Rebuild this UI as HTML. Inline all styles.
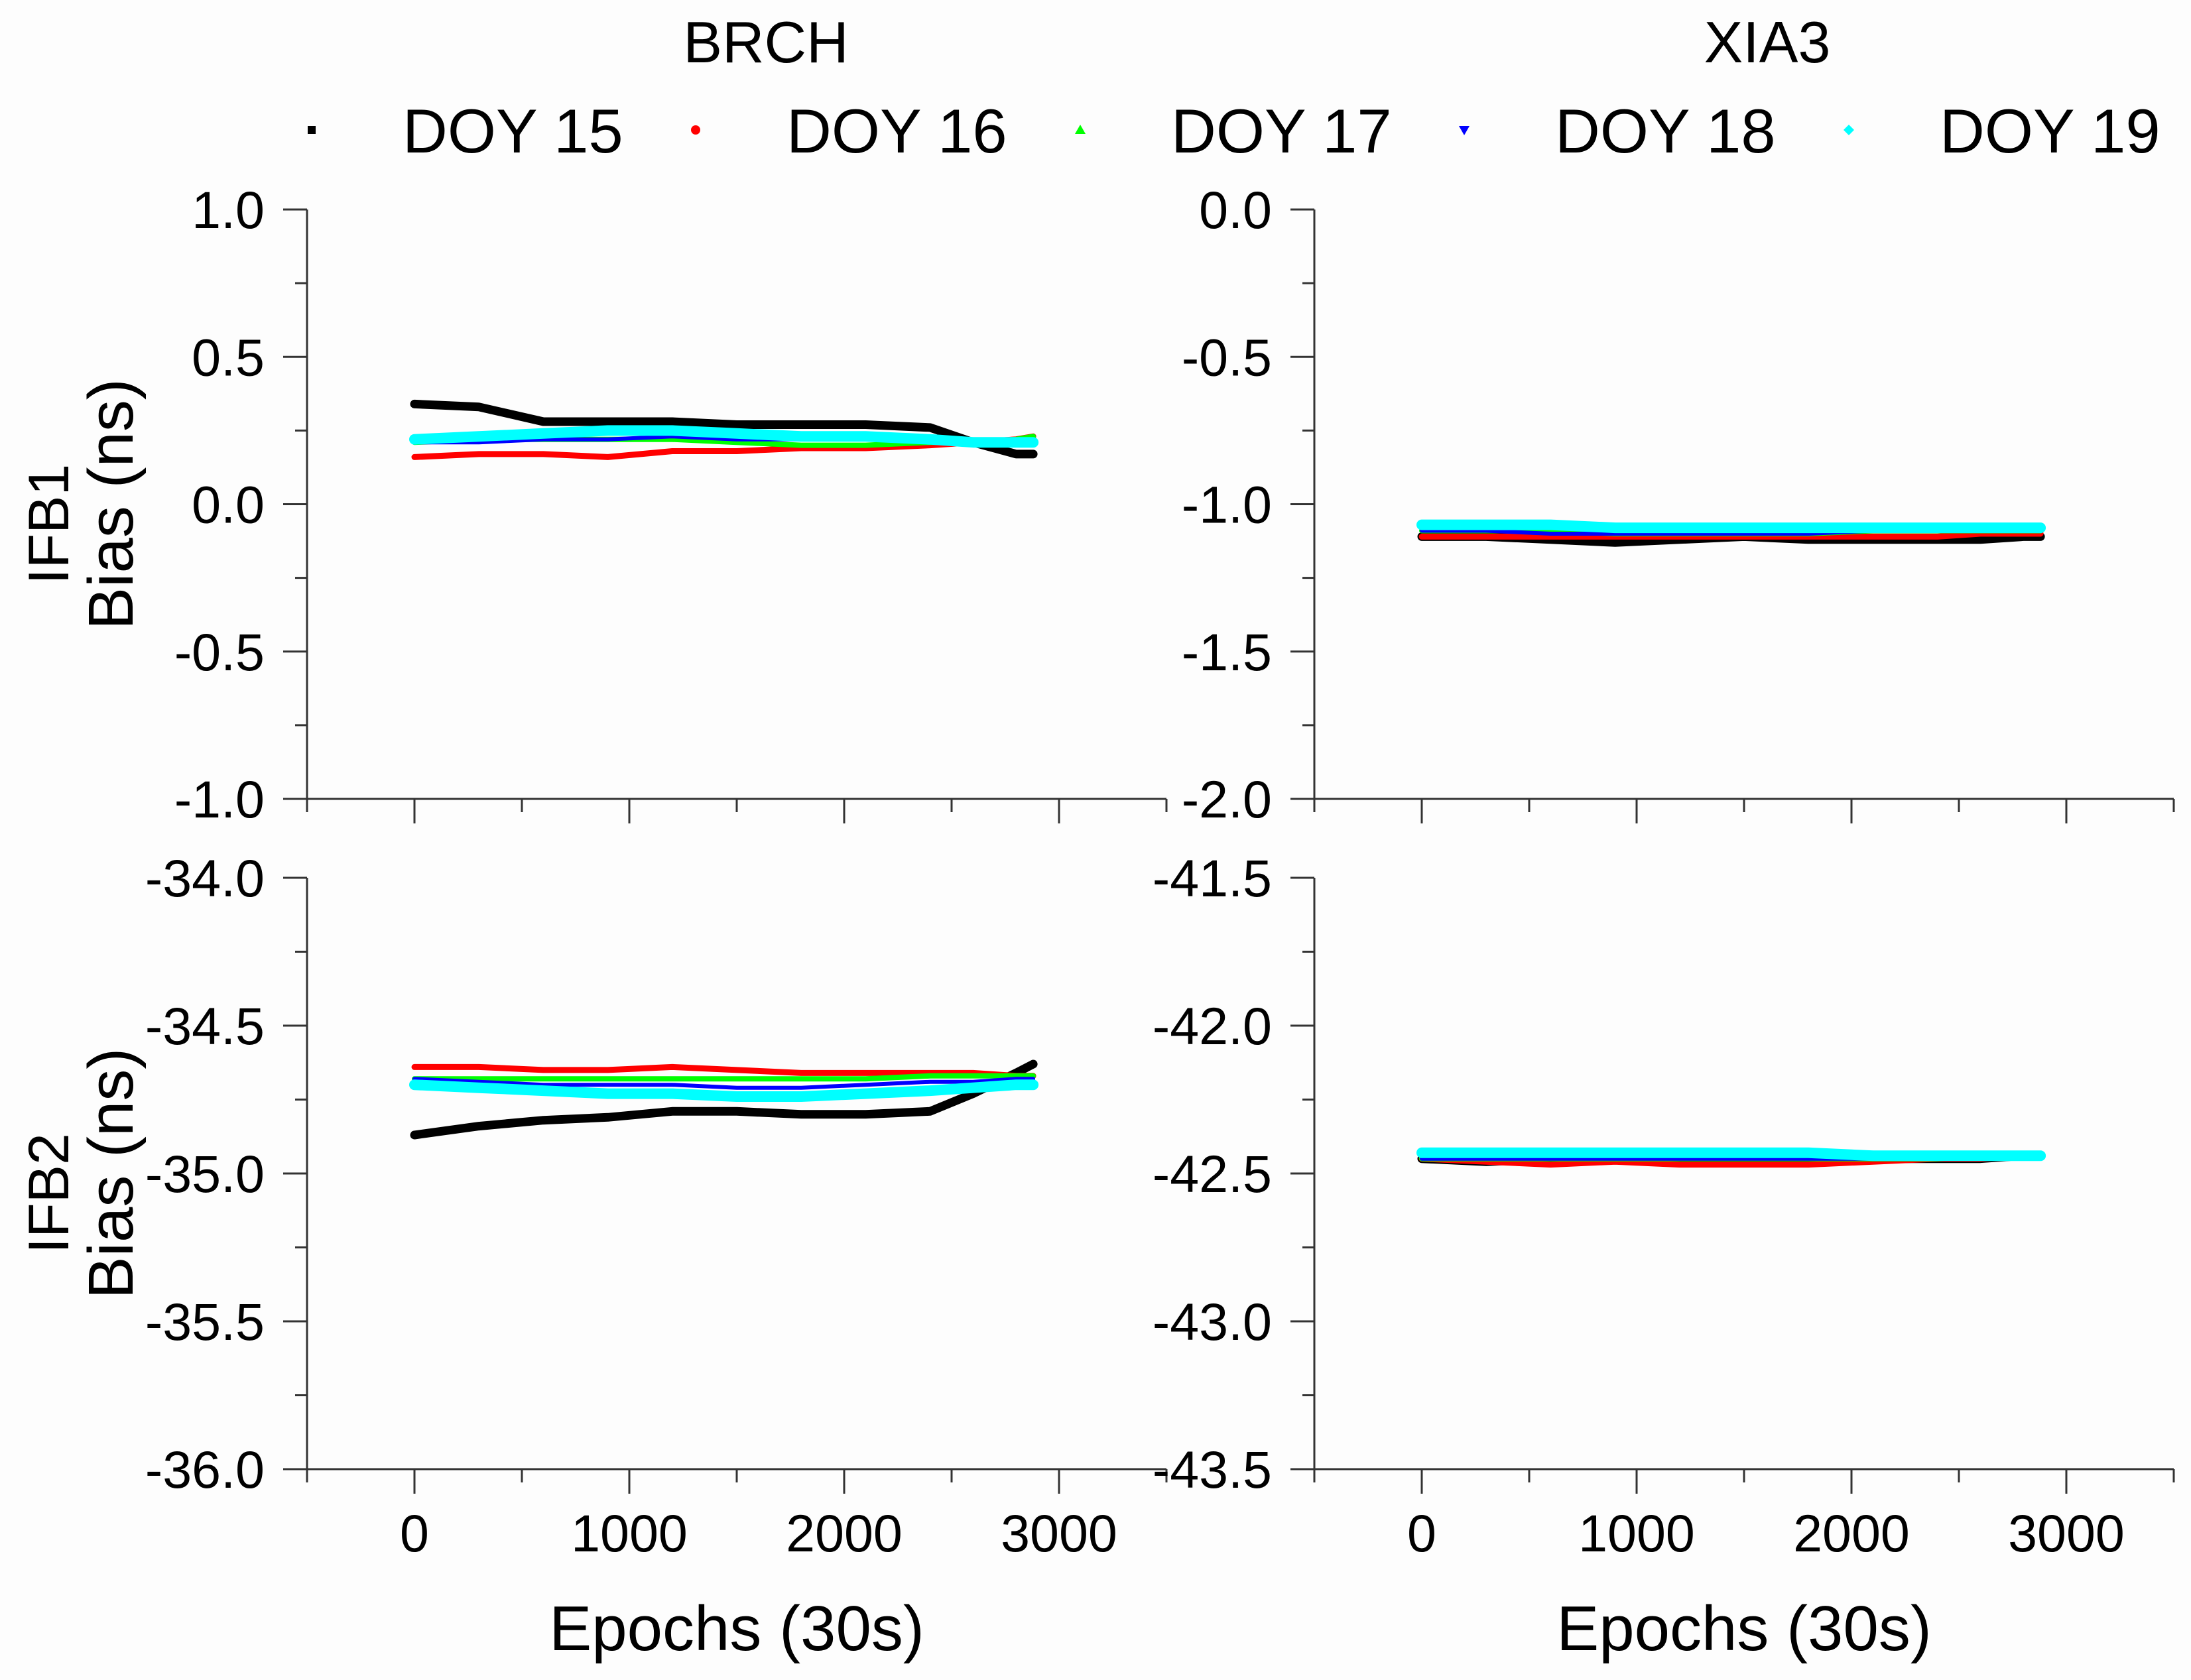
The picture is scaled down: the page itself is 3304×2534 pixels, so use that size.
<!DOCTYPE html>
<html><head><meta charset="utf-8">
<style>
html,body{margin:0;padding:0;background:#fdfdfd;}
svg{display:block;}
text{font-family:"Liberation Sans",Arial,sans-serif;fill:#000;}
</style></head>
<body>
<svg id="fig" width="3304" height="2534" viewBox="0 0 3304 2534" xmlns="http://www.w3.org/2000/svg">
<rect width="3304" height="2534" fill="#fdfdfd"/>
<text x="1155" y="94" font-size="88" text-anchor="middle">BRCH</text>
<text x="2665" y="94" font-size="88" text-anchor="middle">XIA3</text>
<g id="legend"></g>
<g id="panels"></g>
</svg>
<script>
// ---- data ----
const epochs = [0, 300, 600, 900, 1200, 1500, 1800, 2100, 2400, 2600, 2800, 2880];
const seriesNames = ["DOY 15", "DOY 16", "DOY 17", "DOY 18", "DOY 19"];
const xTicks = [0, 1000, 2000, 3000];
// BRCH IFB1
const brchIfb1_d15 = [0.34, 0.33, 0.28, 0.28, 0.28, 0.27, 0.27, 0.27, 0.26, 0.21, 0.17, 0.17];
const brchIfb1_d16 = [0.16, 0.17, 0.17, 0.16, 0.18, 0.18, 0.19, 0.19, 0.20, 0.21, 0.22, 0.23];
const brchIfb1_d17 = [0.21, 0.22, 0.22, 0.22, 0.22, 0.21, 0.20, 0.20, 0.21, 0.21, 0.22, 0.23];
const brchIfb1_d18 = [0.21, 0.21, 0.22, 0.22, 0.23, 0.22, 0.22, 0.22, 0.21, 0.21, 0.22, 0.22];
const brchIfb1_d19 = [0.22, 0.23, 0.24, 0.25, 0.25, 0.24, 0.23, 0.23, 0.22, 0.21, 0.21, 0.21];
// XIA3 IFB1
const xiaIfb1_d15 = [-1.11, -1.11, -1.12, -1.13, -1.12, -1.11, -1.12, -1.12, -1.12, -1.12, -1.11, -1.11];
const xiaIfb1_d16 = [-1.11, -1.11, -1.11, -1.11, -1.11, -1.11, -1.11, -1.11, -1.11, -1.10, -1.10, -1.10];
const xiaIfb1_d17 = [-1.09, -1.09, -1.09, -1.10, -1.10, -1.10, -1.10, -1.09, -1.09, -1.09, -1.09, -1.09];
const xiaIfb1_d18 = [-1.09, -1.09, -1.10, -1.10, -1.10, -1.10, -1.10, -1.09, -1.09, -1.09, -1.09, -1.09];
const xiaIfb1_d19 = [-1.07, -1.07, -1.07, -1.08, -1.08, -1.08, -1.08, -1.08, -1.08, -1.08, -1.08, -1.08];
// BRCH IFB2
const brchIfb2_d15 = [-34.87, -34.84, -34.82, -34.81, -34.79, -34.79, -34.80, -34.80, -34.79, -34.73, -34.66, -34.63];
const brchIfb2_d16 = [-34.64, -34.64, -34.65, -34.65, -34.64, -34.65, -34.66, -34.66, -34.66, -34.66, -34.67, -34.67];
const brchIfb2_d17 = [-34.68, -34.68, -34.68, -34.68, -34.68, -34.68, -34.68, -34.68, -34.67, -34.67, -34.67, -34.67];
const brchIfb2_d18 = [-34.68, -34.69, -34.70, -34.70, -34.70, -34.71, -34.71, -34.70, -34.69, -34.69, -34.68, -34.68];
const brchIfb2_d19 = [-34.70, -34.71, -34.72, -34.73, -34.73, -34.74, -34.74, -34.73, -34.72, -34.71, -34.70, -34.70];
// XIA3 IFB2
const xiaIfb2_d15 = [-42.45, -42.46, -42.45, -42.45, -42.45, -42.45, -42.45, -42.45, -42.45, -42.45, -42.44, -42.44];
const xiaIfb2_d16 = [-42.45, -42.46, -42.47, -42.46, -42.47, -42.47, -42.47, -42.46, -42.45, -42.45, -42.44, -42.44];
const xiaIfb2_d17 = [-42.45, -42.45, -42.45, -42.45, -42.45, -42.45, -42.45, -42.45, -42.45, -42.44, -42.44, -42.44];
const xiaIfb2_d18 = [-42.45, -42.45, -42.45, -42.45, -42.45, -42.45, -42.45, -42.45, -42.44, -42.44, -42.44, -42.44];
const xiaIfb2_d19 = [-42.43, -42.43, -42.43, -42.43, -42.43, -42.43, -42.43, -42.44, -42.44, -42.44, -42.44, -42.44];
const tlTicks = ["1.0", "0.5", "0.0", "-0.5", "-1.0"];
const trTicks = ["0.0", "-0.5", "-1.0", "-1.5", "-2.0"];
const blTicks = ["-34.0", "-34.5", "-35.0", "-35.5", "-36.0"];
const brTicks = ["-41.5", "-42.0", "-42.5", "-43.0", "-43.5"];

const colors = ["#000000", "#ff0000", "#00ff00", "#0000ff", "#00ffff"];
const widths = [13, 9, 8, 6, 16];
const NS = "http://www.w3.org/2000/svg";
function mk(tag, attrs, parent) {
  const e = document.createElementNS(NS, tag);
  for (const k in attrs) e.setAttribute(k, attrs[k]);
  parent.appendChild(e);
  return e;
}

const panels = [
  {name:"brch-ifb1", x0:463, x1:1759, y0:316, y1:1205, ticks:tlTicks, data:[brchIfb1_d15,brchIfb1_d16,brchIfb1_d17,brchIfb1_d18,brchIfb1_d19], xlab:false, ylab:"IFB1"},
  {name:"xia3-ifb1", x0:1982, x1:3278, y0:316, y1:1205, ticks:trTicks, data:[xiaIfb1_d15,xiaIfb1_d16,xiaIfb1_d17,xiaIfb1_d18,xiaIfb1_d19], xlab:false, ylab:null},
  {name:"brch-ifb2", x0:463, x1:1759, y0:1324, y1:2216, ticks:blTicks, data:[brchIfb2_d15,brchIfb2_d16,brchIfb2_d17,brchIfb2_d18,brchIfb2_d19], xlab:true, ylab:"IFB2"},
  {name:"xia3-ifb2", x0:1982, x1:3278, y0:1324, y1:2216, ticks:brTicks, data:[xiaIfb2_d15,xiaIfb2_d16,xiaIfb2_d17,xiaIfb2_d18,xiaIfb2_d19], xlab:true, ylab:null}
];
const pg = document.getElementById("panels");
panels.forEach(p => {
  const yMax = parseFloat(p.ticks[0]), yMin = parseFloat(p.ticks[p.ticks.length-1]);
  const xs = v => p.x0 + (v + 500) / 4000 * (p.x1 - p.x0);
  const ys = v => p.y0 + (yMax - v) / (yMax - yMin) * (p.y1 - p.y0);
  const g = mk("g", {}, pg);
  
  
  p.data.forEach((arr, i) => {
    const pts = epochs.map((e, j) => xs(e).toFixed(1) + "," + ys(arr[j]).toFixed(1)).join(" ");
    const pl = mk("polyline", {points: pts, fill: "none", stroke: colors[i], "stroke-width": widths[i], "stroke-linejoin": "round", "stroke-linecap": "round"}, g);
    
    
  });
  const ax = mk("path", {d: `M${p.x0},${p.y0} V${p.y1} H${p.x1}`, fill: "none", stroke: "#333", "stroke-width": 3}, g);
  
  
  p.ticks.forEach((t, i) => {
    const v = parseFloat(t), y = ys(v);
    mk("line", {x1: p.x0 - 36, x2: p.x0, y1: y, y2: y, stroke: "#333", "stroke-width": 3}, g);
    if (i < p.ticks.length - 1) {
      const ym = ys(v - 0.25 * (yMax - yMin) / 2);
      mk("line", {x1: p.x0 - 18, x2: p.x0, y1: ym, y2: ym, stroke: "#333", "stroke-width": 3}, g);
    }
    const tx = mk("text", {x: p.x0 - 64, y: y + 28, "font-size": 79, "text-anchor": "end"}, g);
    tx.textContent = t;
    
    
  });
  for (let v = -500; v <= 3500; v += 500) {
    const major = v % 1000 === 0;
    mk("line", {x1: xs(v), x2: xs(v), y1: p.y1, y2: p.y1 + (major ? 37 : 20), stroke: "#333", "stroke-width": 3}, g);
  }
  if (p.xlab) {
    xTicks.forEach(v => {
      const tx = mk("text", {x: xs(v), y: p.y1 + 124, "font-size": 79, "text-anchor": "middle"}, g);
      tx.textContent = String(v);
      
      
    });
    const xt = mk("text", {x: (p.x0 + p.x1) / 2, y: p.y1 + 273, "font-size": 96, "text-anchor": "middle"}, g);
    xt.textContent = "Epochs (30s)";
    
    
  }
  if (p.ylab) {
    const cy = (p.y0 + p.y1) / 2;
    const yt = mk("text", {transform: `translate(103,${cy + 30}) rotate(-90)`, "font-size": 86, "text-anchor": "middle"}, g);
    yt.textContent = p.ylab;
    
    
    const yt2 = mk("text", {transform: `translate(200,${cy}) rotate(-90)`, "font-size": 96, "text-anchor": "middle"}, g);
    yt2.textContent = "Bias (ns)";
    
    
  }
});
const lg = document.getElementById("legend");
const markX = [470, 1049, 1629, 2208, 2788];
seriesNames.forEach((n, i) => {
  const x = markX[i], y = 196;
  const ge = mk("g", {}, lg);
  
  
  if (i === 0) mk("rect", {x: x - 6, y: y - 6, width: 12, height: 12, fill: colors[i]}, ge);
  else if (i === 1) mk("circle", {cx: x, cy: y, r: 7, fill: colors[i]}, ge);
  else if (i === 2) mk("polygon", {points: `${x-8},${y+6} ${x+8},${y+6} ${x},${y-8}`, fill: colors[i]}, ge);
  else if (i === 3) mk("polygon", {points: `${x-8},${y-6} ${x+8},${y-6} ${x},${y+8}`, fill: colors[i]}, ge);
  else mk("polygon", {points: `${x-8},${y} ${x},${y-8} ${x+8},${y} ${x},${y+8}`, fill: colors[i]}, ge);
  const t = mk("text", {x: x + 137, y: y + 34, "font-size": 94}, ge);
  t.textContent = n;
});
</script>
</body></html>
